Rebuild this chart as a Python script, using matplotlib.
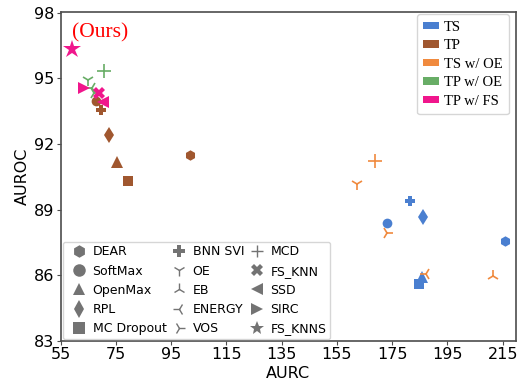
import matplotlib
matplotlib.use("Agg")
import matplotlib.pyplot as plt
from matplotlib.lines import Line2D
from matplotlib.patches import Patch

# method -> marker
methods = ["DEAR", "SoftMax", "OpenMax", "RPL", "MC Dropout",
           "BNN SVI", "OE", "EB", "ENERGY", "VOS",
           "MCD", "FS_KNN", "SSD", "SIRC", "FS_KNNS"]
markers = ["h", "o", "^", "d", "s",
           "P", "1", "2", "3", "4",
           "+", "X", "<", ">", "*"]

groups = ["TS", "TP", "TS w/ OE", "TP w/ OE", "TP w/ FS"]
colors = ["#4a7fd0", "#a0572f", "#f08a3e", "#68ad66", "#f0168c"]

# TS
ts_methods = ["DEAR", "SoftMax", "OpenMax", "RPL", "MC Dropout", "BNN SVI"]
ts_aurc = [215.8, 173.0, 185.7, 186.3, 184.7, 181.5]
ts_auroc = [87.56, 88.41, 85.93, 88.67, 85.59, 89.40]

# TP
tp_methods = ["DEAR", "SoftMax", "OpenMax", "RPL", "MC Dropout", "BNN SVI"]
tp_aurc = [101.8, 67.8, 75.5, 72.6, 79.3, 69.5]
tp_auroc = [91.49, 93.96, 91.18, 92.41, 90.30, 93.55]

# TS w/ OE
tsoe_methods = ["OE", "EB", "ENERGY", "VOS", "MCD"]
tsoe_aurc = [162.2, 211.5, 187.3, 173.0, 168.8]
tsoe_auroc = [90.16, 85.96, 86.08, 87.94, 91.23]

# TP w/ OE
tpoe_methods = ["OE", "ENERGY", "VOS", "MCD"]
tpoe_aurc = [64.8, 66.2, 66.9, 70.8]
tpoe_auroc = [94.92, 94.55, 94.35, 95.33]

# TP w/ FS
tpfs_methods = ["FS_KNN", "SSD", "SIRC", "FS_KNNS"]
tpfs_aurc = [69.0, 70.4, 63.5, 59.0]
tpfs_auroc = [94.34, 93.90, 94.54, 96.32]

xticks = [55, 75, 95, 115, 135, 155, 175, 195, 215]
yticks = [83, 86, 89, 92, 95, 98]

sizes = {"h": 7.5, "o": 7, "^": 8, "d": 8, "s": 7.5, "P": 7.5,
         "1": 9, "2": 9, "3": 9, "4": 9, "+": 10,
         "X": 8, "<": 8, ">": 8, "*": 13.5}

fig = plt.figure(figsize=(5.2, 3.85), dpi=100)
ax = fig.add_axes([0.1167, 0.1143, 0.875, 0.8545])

data = [(ts_methods, ts_aurc, ts_auroc),
        (tp_methods, tp_aurc, tp_auroc),
        (tsoe_methods, tsoe_aurc, tsoe_auroc),
        (tpoe_methods, tpoe_aurc, tpoe_auroc),
        (tpfs_methods, tpfs_aurc, tpfs_auroc)]

for z, (col, (names, xs, ys)) in enumerate(zip(colors, data)):
    for name, x, y in zip(names, xs, ys):
        m = markers[methods.index(name)]
        ax.plot(x, y, linestyle="none", marker=m, color=col,
                markersize=sizes[m], markeredgewidth=1.2 if m in "1234+" else 0,
                zorder=3 + z)

ax.text(59.2, 96.85, "(Ours)", color="red", fontsize=15.5,
        family="Liberation Serif", va="baseline", ha="left")

ax.set_xlim(55, 219.7)
ax.set_ylim(83, 98.03)
ax.set_xticks(xticks)
ax.set_yticks(yticks)
ax.tick_params(labelsize=11.5, length=3, color="0.3")
ax.tick_params(axis="x", pad=1.5)
ax.tick_params(axis="y", pad=1.5)
for s in ax.spines.values():
    s.set_color("0.3")
    s.set_linewidth(1.2)
ax.set_xlabel("AURC", fontsize=11.5, labelpad=3)
ax.set_ylabel("AUROC", fontsize=11.5, labelpad=3)

# colour legend
color_handles = [Patch(facecolor=c, edgecolor="none") for c in colors]
leg1 = ax.legend(color_handles, groups, loc="upper right",
                 prop={"family": "Liberation Serif", "size": 10.5},
                 handlelength=1.1, handleheight=0.4, handletextpad=0.3,
                 labelspacing=0.38, borderpad=0.45, borderaxespad=0.15,
                 bbox_to_anchor=(0.99, 1.0))
ax.add_artist(leg1)

# marker legend
marker_handles = [Line2D([], [], linestyle="none", marker=m, color="0.45",
                         markersize=9 if m not in "*" else 10,
                         markeredgewidth=1.0 if m in "1234+" else 0)
                  for m in markers]
ax.legend(marker_handles, methods, loc="lower left", ncol=3, fontsize=9,
          handlelength=2.0, handletextpad=0.1, columnspacing=0.0,
          labelspacing=0.5, borderpad=0.3, borderaxespad=0.15)

fig.savefig("out.png", dpi=100)
